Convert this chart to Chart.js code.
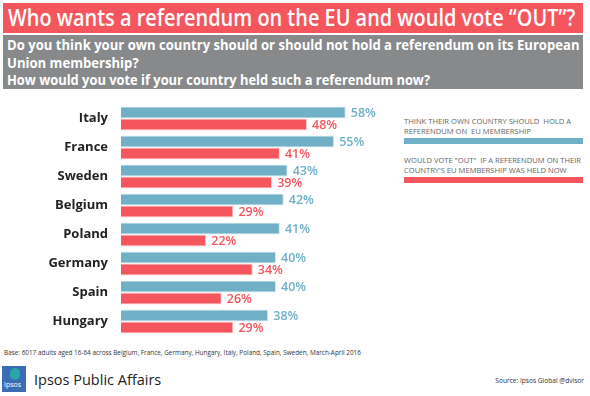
<!DOCTYPE html>
<html>
<head>
<meta charset="utf-8">
<script src="https://cdn.jsdelivr.net/npm/chart.js@4"></script>
<style>
  body { margin: 0; width: 590px; height: 396px; background: #fff; position: relative; overflow: hidden; font-family: "Open Sans", sans-serif; }
  .title { position: absolute; left: 3px; top: 3px; width: 580px; height: 30px; background: #f5565e; color: #fff; font-weight: 600; font-size: 22.5px; line-height: 30px; padding-left: 5px; box-sizing: border-box; white-space: nowrap; }
  .title span, .sub span { display: inline-block; transform-origin: left center; white-space: nowrap; }
  .sub { position: absolute; left: 3px; top: 35px; width: 580px; height: 54px; background: #87898b; color: #fff; font-weight: 700; font-size: 14px; line-height: 17.5px; padding: 1px 0 0 4px; box-sizing: border-box; }
  #wrap { position: absolute; left: 0; top: 100px; width: 400px; height: 240px; }
  .leg { position: absolute; left: 404px; width: 182px; color: #666; font-size: 7.6px; line-height: 9.5px; text-transform: uppercase; }
  .legbar { position: absolute; left: 404px; width: 179px; height: 6px; }
  .base { position: absolute; left: 4px; top: 348px; font-size: 6.4px; color: #333; }
  .logo { position: absolute; left: 2px; top: 366px; width: 24px; height: 26px; background: #3a6db3; color: #fff; font-size: 7px; }
  .logo span { position: absolute; left: 2px; bottom: 3px; }
  .logo i { position: absolute; left: 8px; top: 2px; width: 10px; height: 12px; border-radius: 5px; background: #2aa5a8; }
  .brand { position: absolute; left: 34px; top: 370px; font-size: 14.5px; color: #222; }
  .src { position: absolute; right: 6px; top: 376px; font-size: 6.6px; color: #333; }
</style>
</head>
<body>
<div class="title"><span style="transform:scaleX(0.885)">Who wants a referendum on the EU and would vote “OUT”?</span></div>
<div class="sub"><span style="transform:scaleX(0.935)">Do you think your own country should or should not hold a referendum on its European</span><br><span style="transform:scaleX(0.935)">Union membership?</span><br><span style="transform:scaleX(0.92)">How would you vote if your country held such a referendum now?</span></div>
<div id="wrap"><canvas id="chart"></canvas></div>
<div class="leg" style="top:117px">Think their own country should&nbsp; hold a referendum on&nbsp; EU membership</div>
<div class="legbar" style="top:138px;background:#6fb0c7"></div>
<div class="leg" style="top:156px">Would vote "OUT"&nbsp; if a referendum on their country's EU membership was held now</div>
<div class="legbar" style="top:177px;background:#f5565e"></div>
<div class="base">Base: 6017 adults aged 16-64 across Belgium, France, Germany, Hungary, Italy, Poland, Spain, Sweden, March-April 2016</div>
<div class="logo"><i></i><span>Ipsos</span></div>
<div class="brand">Ipsos Public Affairs</div>
<div class="src">Source: Ipsos Global @dvisor</div>
<script>
const countries = ["Italy", "France", "Sweden", "Belgium", "Poland", "Germany", "Spain", "Hungary"];
const holdReferendum = [58, 55, 43, 42, 41, 40, 40, 38];
const voteOut = [48, 41, 39, 29, 22, 34, 26, 29];
const seriesNames = ["Think their own country should hold a referendum on EU membership", "Would vote OUT if a referendum on their country's EU membership was held now"];

const BLUE = "#6fb0c7";
const RED = "#f5565e";

// value labels at bar ends
const valueLabels = {
  id: "valueLabels",
  afterDatasetsDraw(chart) {
    const ctx = chart.ctx;
    ctx.save();
    ctx.font = "600 12.5px 'Open Sans'";
    ctx.textBaseline = "middle";
    chart.data.datasets.forEach((ds, i) => {
      chart.getDatasetMeta(i).data.forEach((bar, j) => {
        ctx.fillStyle = ds.backgroundColor;
        ctx.fillText(ds.data[j] + "%", bar.x + 5, bar.y + 1);
      });
    });
    ctx.restore();
  }
};

new Chart(document.getElementById("chart"), {
  type: "bar",
  data: {
    labels: countries,
    datasets: [
      { label: seriesNames[0], data: holdReferendum, backgroundColor: BLUE, borderColor: "#d7eaf1", borderWidth: 1 },
      { label: seriesNames[1], data: voteOut, backgroundColor: RED, borderColor: "#fbd0d3", borderWidth: 1 }
    ]
  },
  options: {
    indexAxis: "y",
    responsive: true,
    maintainAspectRatio: false,
    animation: false,
    layout: { padding: { top: 4, bottom: 4, left: 0, right: 0 } },
    datasets: { bar: { categoryPercentage: 0.82, barPercentage: 1 } },
    plugins: { legend: { display: false }, tooltip: { enabled: false } },
    scales: {
      x: { display: false, min: 0, max: 72 },
      y: {
        grid: { display: false },
        border: { display: false },
        afterFit: s => { s.width = 121; s.paddingTop = 0; s.paddingBottom = 0; },
        ticks: { color: "#222", font: { family: "Open Sans", size: 13, weight: "bold" }, padding: 5 }
      }
    }
  },
  plugins: [valueLabels]
});
</script>
</body>
</html>
